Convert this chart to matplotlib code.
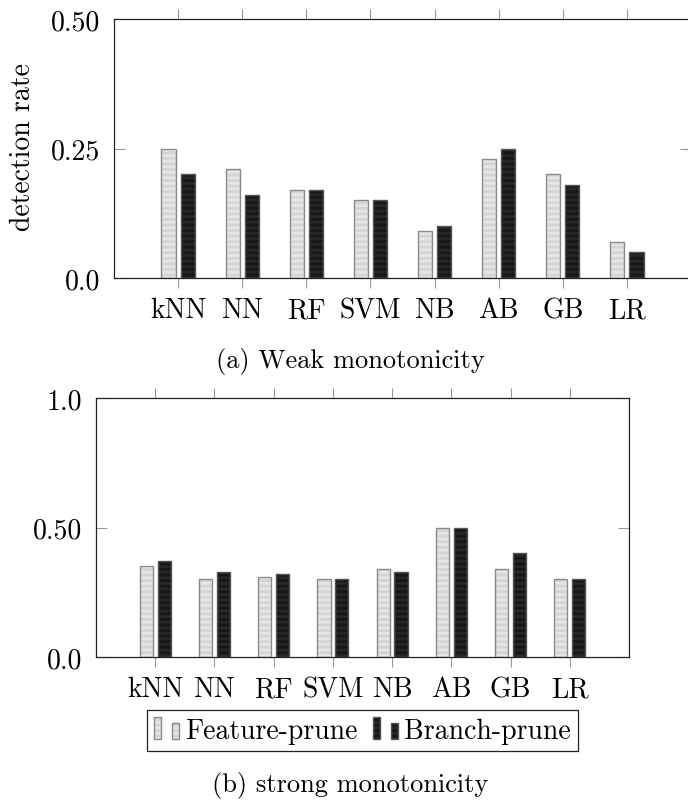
import matplotlib
matplotlib.use("Agg")
import matplotlib.pyplot as plt
from matplotlib.legend_handler import HandlerBase
from matplotlib.patches import Patch, Rectangle
import numpy as np

plt.rcParams["font.family"] = "serif"
plt.rcParams["font.serif"] = ["cmr10"]
plt.rcParams["mathtext.fontset"] = "cm"
plt.rcParams["axes.formatter.use_mathtext"] = True
plt.rcParams["hatch.linewidth"] = 2.0

classifiers = ["kNN", "NN", "RF", "SVM", "NB", "AB", "GB", "LR"]

weak_feature = [0.25, 0.21, 0.17, 0.15, 0.09, 0.23, 0.20, 0.07]
weak_branch = [0.20, 0.16, 0.17, 0.15, 0.10, 0.25, 0.18, 0.05]

strong_feature = [0.35, 0.30, 0.31, 0.30, 0.34, 0.50, 0.34, 0.30]
strong_branch = [0.37, 0.33, 0.32, 0.30, 0.33, 0.50, 0.40, 0.30]

weak_yticks = [0.0, 0.25, 0.50]
weak_yticklabels = ["0.0", "0.25", "0.50"]
strong_yticks = [0.0, 0.50, 1.0]
strong_yticklabels = ["0.0", "0.50", "1.0"]

# (fill, stripe, outline) for each series
FEATURE_STYLE = ("#e5e5e5", "#d5d5d5", "#8a8a8a")
BRANCH_STYLE = ("#262626", "#181818", "#555555")

W, H = 688, 803
BAR_W = 0.22
OFFSET = 0.15
FS = 20


def striped_bars(ax, x, heights, style):
    fill, stripe, edge = style
    ax.bar(x, heights, BAR_W, color=fill, edgecolor=stripe, linewidth=0,
           hatch="---", zorder=2)
    ax.bar(x, heights, BAR_W, fill=False, edgecolor=edge, linewidth=1.0,
           zorder=3)


def style_axes(ax, yticks, yticklabels, ylim):
    x = np.arange(len(classifiers))
    ax.set_xlim(-1, len(classifiers))
    ax.set_ylim(*ylim)
    ax.set_xticks(x)
    ax.set_xticklabels(classifiers, fontsize=FS)
    ax.set_yticks(yticks)
    ax.set_yticklabels(yticklabels, fontsize=FS)
    ax.tick_params(axis="x", direction="out", top=True, bottom=True,
                   length=7.5, width=0.8, color="#999999", pad=6)
    ax.tick_params(axis="y", direction="in", left=True, right=True,
                   length=8, width=0.8, color="#999999", pad=10)
    for sp in ax.spines.values():
        sp.set_linewidth(0.9)
        sp.set_color("#222222")


def px_axes(fig, left, right, top, bottom):
    return fig.add_axes([left / W, 1 - bottom / H, (right - left) / W,
                         (bottom - top) / H])


class TwoBarHandler(HandlerBase):
    def create_artists(self, legend, orig_handle, xdescent, ydescent,
                       width, height, fontsize, trans):
        fill = orig_handle.get_facecolor()
        stripe = orig_handle.get_edgecolor()
        edge = orig_handle.outline
        bw = 0.26 * width
        arts = []
        for x0, h in ((0.0, height), (0.72 * width, 0.74 * height)):
            r = Rectangle((x0 - xdescent, -ydescent), bw, h, facecolor=fill,
                          edgecolor=stripe, linewidth=0, hatch="---",
                          transform=trans)
            o = Rectangle((x0 - xdescent, -ydescent), bw, h, fill=False,
                          edgecolor=edge, linewidth=1.0, transform=trans)
            arts += [r, o]
        return arts


fig = plt.figure(figsize=(W / 100, H / 100), dpi=100)

x = np.arange(len(classifiers))

ax1 = px_axes(fig, 114, 691, 20, 279)
striped_bars(ax1, x - OFFSET, weak_feature, FEATURE_STYLE)
striped_bars(ax1, x + OFFSET, weak_branch, BRANCH_STYLE)
style_axes(ax1, weak_yticks, weak_yticklabels, (0, 0.5))
fig.text(23 / W, 1 - 147 / H, "detection rate", rotation=90, fontsize=FS,
         ha="center", va="center")

ax2 = px_axes(fig, 96, 629, 399, 658)
striped_bars(ax2, x - OFFSET, strong_feature, FEATURE_STYLE)
striped_bars(ax2, x + OFFSET, strong_branch, BRANCH_STYLE)
style_axes(ax2, strong_yticks, strong_yticklabels, (0, 1.0))

handles = []
for label, (fill, stripe, edge) in (("Feature-prune", FEATURE_STYLE),
                                    ("Branch-prune", BRANCH_STYLE)):
    p = Patch(facecolor=fill, edgecolor=stripe, label=label)
    p.outline = edge
    handles.append(p)

fig.legend(handles=handles, handler_map={Patch: TwoBarHandler()},
           loc="upper center", bbox_to_anchor=(362.5 / W, 1 - 711 / H),
           ncol=2, fontsize=FS, frameon=True, fancybox=False,
           edgecolor="#222222", framealpha=1, borderpad=0.25,
           handlelength=0.9, handleheight=0.85, handletextpad=0.22,
           columnspacing=0.55, borderaxespad=0)
fig.legends[0].get_frame().set_linewidth(0.9)

fig.text(350 / W, 1 - 362 / H, "(a) Weak monotonicity", fontsize=19,
         ha="center", va="center")
fig.text(350 / W, 1 - 786 / H, "(b) strong monotonicity", fontsize=19,
         ha="center", va="center")

fig.savefig("out.png", dpi=100)
